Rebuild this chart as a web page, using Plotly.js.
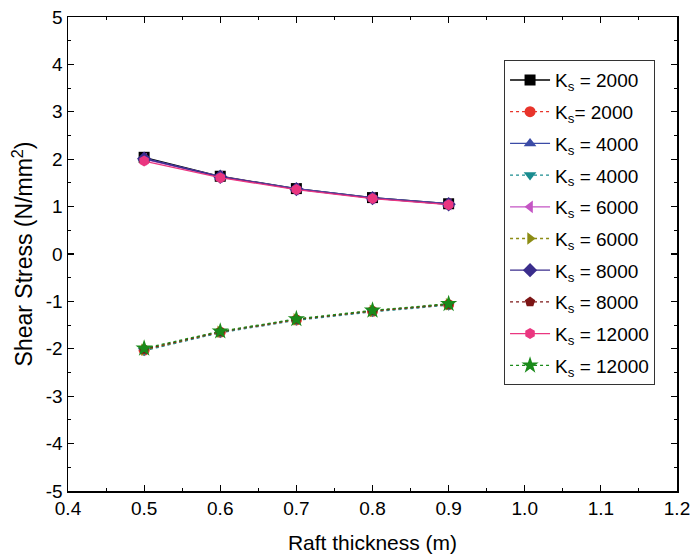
<!DOCTYPE html>
<html><head><meta charset="utf-8">
<script src="https://cdn.plot.ly/plotly-3.0.1.min.js"></script>
<style>body{margin:0;padding:0;background:#fff}#chart{width:693px;height:559px}</style>
</head><body><div id="chart"></div>
<script>
const thickness = [0.5, 0.6, 0.7, 0.8, 0.9];
const names = ["K<sub>s</sub> = 2000","K<sub>s</sub>= 2000","K<sub>s</sub> = 4000","K<sub>s</sub> = 4000","K<sub>s</sub> = 6000","K<sub>s</sub> = 6000","K<sub>s</sub> = 8000","K<sub>s</sub> = 8000","K<sub>s</sub> = 12000","K<sub>s</sub> = 12000"];
const ks2000_pos = [2.04, 1.64, 1.38, 1.19, 1.06];
const ks2000_neg = [-2.03, -1.65, -1.39, -1.21, -1.07];
const ks4000_pos = [2.02, 1.63, 1.38, 1.19, 1.06];
const ks4000_neg = [-2.04, -1.66, -1.40, -1.22, -1.08];
const ks6000_pos = [2.00, 1.63, 1.37, 1.18, 1.05];
const ks6000_neg = [-2.02, -1.64, -1.38, -1.20, -1.06];
const ks8000_pos = [2.01, 1.63, 1.37, 1.18, 1.05];
const ks8000_neg = [-2.01, -1.64, -1.38, -1.20, -1.06];
const ks12000_pos = [1.96, 1.61, 1.36, 1.17, 1.04];
const ks12000_neg = [-1.99, -1.63, -1.37, -1.19, -1.05];
const xTickVals = [0.4, 0.5, 0.6, 0.7, 0.8, 0.9, 1.0, 1.1, 1.2];
const xTickText = ["0.4","0.5","0.6","0.7","0.8","0.9","1.0","1.1","1.2"];
const yTickVals = [-5, -4, -3, -2, -1, 0, 1, 2, 3, 4, 5];
const yTickText = ["-5","-4","-3","-2","-1","0","1","2","3","4","5"];
const xMinorVals = [0.45, 0.55, 0.65, 0.75, 0.85, 0.95, 1.05, 1.15];
const yMinorVals = [-4.5, -3.5, -2.5, -1.5, -0.5, 0.5, 1.5, 2.5, 3.5, 4.5];
const seriesVals = [ks2000_pos, ks2000_neg, ks4000_pos, ks4000_neg, ks6000_pos, ks6000_neg, ks8000_pos, ks8000_neg, ks12000_pos, ks12000_neg];
const colors = ["#000000","#e8342b","#3b4ba6","#1a8c8f","#c455c4","#8c8c14","#3a2d8c","#7c1515","#ea3680","#1a8a1a"];
const symbols = ["square","circle","triangle-up","triangle-down","triangle-left","triangle-right","diamond","pentagon","hexagon","star"];
const dashes = ["solid","dot","solid","dot","solid","dot","solid","dot","solid","dot"];

const traces = seriesVals.map((v,i)=>({
  x: thickness, y: v, name: names[i], type:'scatter', mode:'lines+markers', legendgroup:'g'+i,
  line:{color:colors[i], width:1.3, dash:dashes[i]},
  marker:{symbol:symbols[i], color:colors[i], size: symbols[i]==='star'?13:11, line:{width:0}}
}));

const font = "Liberation Sans, Arial, Helvetica, sans-serif";
const layout = {
  width:693, height:559,
  margin:{l:68, r:16, t:17, b:68},
  paper_bgcolor:'#fff', plot_bgcolor:'#fff',
  font:{family:font, color:'#000', size:16},
  showlegend:true,
  legend:{x:0.716, y:0.909, xanchor:'left', yanchor:'top', bordercolor:'#333', borderwidth:1,
          bgcolor:'#fff', font:{size:19, family:font}, tracegroupgap:4, itemwidth:40},
  xaxis:{range:[0.4,1.2], tickmode:'array', tickvals:xTickVals, ticktext:xTickText, showgrid:false, zeroline:false,
         ticklabeloverflow:'allow',
         showline:true, linecolor:'#000', linewidth:1.5, mirror:'ticks', ticks:'inside', ticklen:6, tickwidth:1.2, tickcolor:'#000',
         minor:{tickmode:'array', tickvals:xMinorVals, ticks:'inside', ticklen:3, tickwidth:1, tickcolor:'#000', showgrid:false},
         tickfont:{size:19}, title:{text:'Raft thickness (m)', font:{size:21}, standoff:17}},
  yaxis:{range:[-5,5], tickmode:'array', tickvals:yTickVals, ticktext:yTickText, showgrid:false, zeroline:false,
         ticklabeloverflow:'allow',
         showline:true, linecolor:'#000', linewidth:1.5, mirror:'ticks', ticks:'inside', ticklen:6, tickwidth:1.2, tickcolor:'#000',
         minor:{tickmode:'array', tickvals:yMinorVals, ticks:'inside', ticklen:3, tickwidth:1, tickcolor:'#000', showgrid:false},
         tickfont:{size:19}, title:{text:'Shear Stress (N/mm<sup>2</sup>)', font:{size:23}, standoff:6}}
};
Plotly.newPlot('chart', traces, layout, {displayModeBar:false, staticPlot:true});
</script></body></html>
